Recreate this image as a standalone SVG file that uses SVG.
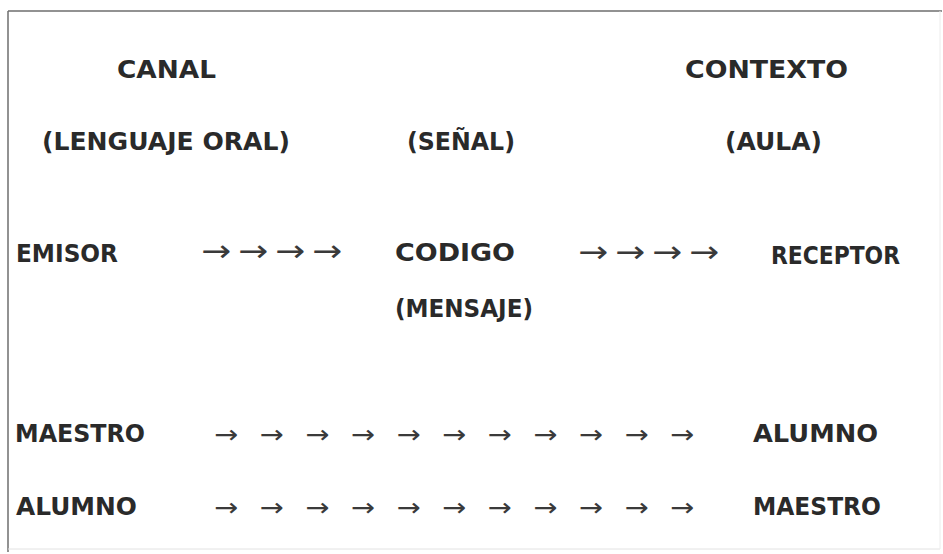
<svg xmlns="http://www.w3.org/2000/svg" width="943" height="554" viewBox="0 0 943 554">
<style>
.t{font-family:"DejaVu Sans","Liberation Sans",sans-serif;font-weight:bold;font-size:24.5px;fill:#2a2a2a}
.a1{font-family:"DejaVu Sans",sans-serif;font-size:30px;fill:#3a3a3a}
.a2{font-family:"DejaVu Sans",sans-serif;font-size:25px;fill:#3a3a3a}
</style>
<rect x="0" y="0" width="943" height="554" fill="#ffffff"/>
<g id="frame">
<line x1="8" y1="11" x2="942" y2="11" stroke="#6e6e6e" stroke-width="1.5"/>
<line x1="8" y1="11" x2="8" y2="552" stroke="#6e6e6e" stroke-width="1.5"/>
<line x1="8" y1="549" x2="940" y2="549" stroke="#e2e2e2" stroke-width="1"/>
<line x1="940" y1="11" x2="940" y2="549" stroke="#ececec" stroke-width="1"/>
</g>
<g id="canal"><text class="t" x="117" y="78" textLength="99" lengthAdjust="spacingAndGlyphs">CANAL</text>
<text class="t" x="42" y="150" textLength="248" lengthAdjust="spacingAndGlyphs">(LENGUAJE ORAL)</text></g>
<g id="senal"><text class="t" x="407" y="150" textLength="108" lengthAdjust="spacingAndGlyphs">(SEÑAL)</text></g>
<g id="contexto"><text class="t" x="685" y="78" textLength="163" lengthAdjust="spacingAndGlyphs">CONTEXTO</text>
<text class="t" x="725" y="150" textLength="97" lengthAdjust="spacingAndGlyphs">(AULA)</text></g>
<g id="emisor"><text class="t" x="16" y="262" textLength="102" lengthAdjust="spacingAndGlyphs">EMISOR</text></g>
<g id="codigo"><text class="t" x="395" y="261" textLength="120" lengthAdjust="spacingAndGlyphs">CODIGO</text>
<text class="t" x="395" y="317" textLength="138" lengthAdjust="spacingAndGlyphs">(MENSAJE)</text></g>
<g id="receptor"><text class="t" x="771" y="264" textLength="129" lengthAdjust="spacingAndGlyphs">RECEPTOR</text></g>
<g id="maestro1"><text class="t" x="15" y="442" textLength="130" lengthAdjust="spacingAndGlyphs">MAESTRO</text></g>
<g id="alumno1"><text class="t" x="753" y="442" textLength="125" lengthAdjust="spacingAndGlyphs">ALUMNO</text></g>
<g id="alumno2"><text class="t" x="16" y="515" textLength="121" lengthAdjust="spacingAndGlyphs">ALUMNO</text></g>
<g id="maestro2"><text class="t" x="753" y="515" textLength="128" lengthAdjust="spacingAndGlyphs">MAESTRO</text></g>
<g id="connectors">
<text class="a1" x="201" y="261" textLength="30" lengthAdjust="spacingAndGlyphs">→</text>
<text class="a1" x="238" y="261" textLength="30" lengthAdjust="spacingAndGlyphs">→</text>
<text class="a1" x="275" y="261" textLength="30" lengthAdjust="spacingAndGlyphs">→</text>
<text class="a1" x="312" y="261" textLength="30" lengthAdjust="spacingAndGlyphs">→</text>
<text class="a1" x="578" y="262" textLength="30" lengthAdjust="spacingAndGlyphs">→</text>
<text class="a1" x="615" y="262" textLength="30" lengthAdjust="spacingAndGlyphs">→</text>
<text class="a1" x="652" y="262" textLength="30" lengthAdjust="spacingAndGlyphs">→</text>
<text class="a1" x="689" y="262" textLength="30" lengthAdjust="spacingAndGlyphs">→</text>
<text class="a2" x="214" y="443" textLength="24" lengthAdjust="spacingAndGlyphs">→</text>
<text class="a2" x="259.6" y="443" textLength="24" lengthAdjust="spacingAndGlyphs">→</text>
<text class="a2" x="305.2" y="443" textLength="24" lengthAdjust="spacingAndGlyphs">→</text>
<text class="a2" x="350.8" y="443" textLength="24" lengthAdjust="spacingAndGlyphs">→</text>
<text class="a2" x="396.4" y="443" textLength="24" lengthAdjust="spacingAndGlyphs">→</text>
<text class="a2" x="442" y="443" textLength="24" lengthAdjust="spacingAndGlyphs">→</text>
<text class="a2" x="487.6" y="443" textLength="24" lengthAdjust="spacingAndGlyphs">→</text>
<text class="a2" x="533.2" y="443" textLength="24" lengthAdjust="spacingAndGlyphs">→</text>
<text class="a2" x="578.8" y="443" textLength="24" lengthAdjust="spacingAndGlyphs">→</text>
<text class="a2" x="624.4" y="443" textLength="24" lengthAdjust="spacingAndGlyphs">→</text>
<text class="a2" x="670" y="443" textLength="24" lengthAdjust="spacingAndGlyphs">→</text>
<text class="a2" x="214" y="516" textLength="24" lengthAdjust="spacingAndGlyphs">→</text>
<text class="a2" x="259.6" y="516" textLength="24" lengthAdjust="spacingAndGlyphs">→</text>
<text class="a2" x="305.2" y="516" textLength="24" lengthAdjust="spacingAndGlyphs">→</text>
<text class="a2" x="350.8" y="516" textLength="24" lengthAdjust="spacingAndGlyphs">→</text>
<text class="a2" x="396.4" y="516" textLength="24" lengthAdjust="spacingAndGlyphs">→</text>
<text class="a2" x="442" y="516" textLength="24" lengthAdjust="spacingAndGlyphs">→</text>
<text class="a2" x="487.6" y="516" textLength="24" lengthAdjust="spacingAndGlyphs">→</text>
<text class="a2" x="533.2" y="516" textLength="24" lengthAdjust="spacingAndGlyphs">→</text>
<text class="a2" x="578.8" y="516" textLength="24" lengthAdjust="spacingAndGlyphs">→</text>
<text class="a2" x="624.4" y="516" textLength="24" lengthAdjust="spacingAndGlyphs">→</text>
<text class="a2" x="670" y="516" textLength="24" lengthAdjust="spacingAndGlyphs">→</text>
</g>
</svg>
